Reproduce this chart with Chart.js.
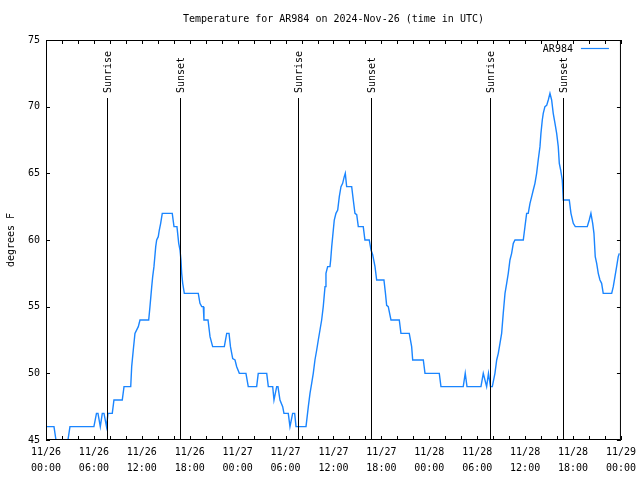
<!DOCTYPE html>
<html>
<head>
<meta charset="utf-8">
<title>Temperature for AR984</title>
<script src="https://cdn.jsdelivr.net/npm/chart.js@4.4.1/dist/chart.umd.min.js"></script>
<style>
  html, body { margin: 0; padding: 0; background: #fff; }
  canvas { display: block; }
</style>
</head>
<body>
<canvas id="tempChart" width="640" height="480"></canvas>
<script>
// hours since 2024-11-26 00:00 UTC
const hours = [
    0, 1.0, 1.25, 2.75, 3.0, 6.0, 6.32, 6.51, 6.80, 7.05, 7.26, 7.58, 7.76, 8.30, 8.51, 9.55, 9.77, 10.61,
    10.73, 10.93, 11.14, 11.56, 11.77, 12.86, 13.02, 13.24, 13.36, 13.52, 13.74, 13.86, 14.06, 14.19, 14.36, 14.56,
    15.81, 16.03, 16.40, 16.62, 16.78, 16.90, 16.99, 17.12, 17.32, 19.07, 19.28, 19.50, 19.70, 19.78, 20.29, 20.54,
    20.87, 22.33, 22.63, 22.92, 23.10, 23.38, 23.67, 23.88, 24.21, 25.04, 25.33, 26.38, 26.58, 27.64, 27.84, 28.39,
    28.55, 28.89, 29.05, 29.30, 29.64, 29.80, 30.34, 30.55, 30.89, 31.14, 31.31, 32.56,
    32.85, 33.06, 33.27, 33.47, 33.68, 33.90, 34.10, 34.31, 34.52, 34.72, 34.94, 35.06, 35.27, 35.56, 35.65, 35.78,
    35.90, 36.10, 36.31, 36.53, 36.73, 36.94, 37.15, 37.35, 37.48, 37.65, 38.28, 38.48, 38.69, 38.91, 39.11, 39.73,
    39.94, 40.48, 40.70, 40.91, 41.20, 41.41, 42.32, 42.51, 42.66, 42.86, 43.20, 44.24, 44.45, 45.49, 45.79, 45.92,
    47.25, 47.46, 49.25, 49.46, 52.25, 52.50, 52.72, 54.47, 54.76, 55.18, 55.41, 55.66, 55.89,
    56.22, 56.44, 56.64, 56.85, 57.06, 57.26, 57.48, 57.69, 57.89, 58.10, 58.31, 58.52, 58.73, 59.77, 59.98, 60.19,
    60.39, 60.61, 60.82, 61.02, 61.23, 61.44, 61.64, 61.86, 61.98, 62.15, 62.27, 62.48, 62.70, 62.90, 63.11, 63.32,
    63.52, 63.74, 63.95, 64.15, 64.28, 64.45, 64.65, 64.74, 64.78, 65.53, 65.74, 66.03, 66.28, 67.78, 68.03, 68.24,
    68.46, 68.62, 68.78, 68.96, 69.16, 69.37, 69.58, 69.78, 70.84, 71.04, 71.25, 71.46, 71.66, 71.79
];
const temps = [
    46, 46, 45, 45, 46, 46, 47, 47, 46, 47, 47, 46, 47, 47, 48, 48, 49, 49,
    50.5, 51.75, 53, 53.5, 54, 54, 55, 56.5, 57.25, 58, 59.5, 60, 60.25, 60.75, 61.25, 62,
    62, 61, 61, 59.75, 59.25, 58.5, 57.5, 56.75, 56, 56, 55.25, 55, 55, 54, 54, 52.75,
    52, 52, 53, 53, 52, 51.1, 51, 50.5, 50, 50, 49, 49, 50, 50, 49, 49,
    48, 49, 49, 48, 47.5, 47, 47, 46, 47, 47, 46, 46,
    47.5, 48.5, 49.25, 50, 51, 51.75, 52.5, 53.25, 54, 55, 56.5, 57.5, 58, 58, 58.5, 59.5,
    60.25, 61.5, 62, 62.25, 63.25, 64, 64.25, 64.75, 65, 64, 64, 63, 62, 61.9, 61, 61,
    60, 60, 59.25, 58.9, 58, 57, 57, 56, 55.1, 55, 54, 54, 53, 53, 52, 51,
    51, 50, 50, 49, 49, 50, 49, 49, 50, 49, 50, 49, 49,
    50, 51, 51.5, 52.25, 53, 54.5, 56, 56.75, 57.5, 58.5, 59, 59.75, 60, 60, 61, 62,
    62, 62.75, 63.25, 63.75, 64.25, 65, 66, 67, 68, 69, 69.5, 70, 70.1, 70.5, 71, 70.5,
    69.5, 68.75, 68, 67, 65.75, 65.25, 64.5, 63.5, 63, 63, 62, 61.25, 61, 61, 61.5, 62,
    61.25, 60.5, 58.75, 58.25, 57.5, 57, 56.75, 56, 56, 56.5, 57.25, 58, 58.75, 59
];

const xTickLabels = [
    ['11/26', '00:00'], ['11/26', '06:00'], ['11/26', '12:00'], ['11/26', '18:00'],
    ['11/27', '00:00'], ['11/27', '06:00'], ['11/27', '12:00'], ['11/27', '18:00'],
    ['11/28', '00:00'], ['11/28', '06:00'], ['11/28', '12:00'], ['11/28', '18:00'],
    ['11/29', '00:00']
];

const sunHours = [7.68, 16.82, 31.59, 40.73, 55.64, 64.78];
const sunLabels = ['Sunrise', 'Sunset', 'Sunrise', 'Sunset', 'Sunrise', 'Sunset'];

const seriesName = 'AR984';
const chartTitle = 'Temperature for AR984 on 2024-Nov-26 (time in UTC)';

const FONT = 'DejaVu Sans Mono';
const lineColor = '#1a85ff';

// box, inward ticks, sunrise/sunset markers, title and legend (gnuplot look)
const gnuplotDecor = {
    id: 'gnuplotDecor',
    afterDatasetsDraw(chart) {
        const ctx = chart.ctx;
        const area = chart.chartArea;
        const xs = chart.scales.x;
        const ys = chart.scales.y;
        ctx.save();
        ctx.strokeStyle = '#000';
        ctx.lineWidth = 1;

        // sunrise / sunset lines
        ctx.font = '10px ' + FONT;
        ctx.fillStyle = '#000';
        sunHours.forEach((h, i) => {
            const px = Math.round(xs.getPixelForValue(h)) + 0.5;
            ctx.beginPath();
            ctx.moveTo(px, area.bottom);
            ctx.lineTo(px, area.top + 58);
            ctx.stroke();
            ctx.save();
            ctx.translate(px + 1, area.top + 53);
            ctx.rotate(-Math.PI / 2);
            ctx.textAlign = 'left';
            ctx.textBaseline = 'middle';
            ctx.fillText(sunLabels[i], 0, 0);
            ctx.restore();
        });

        // frame
        ctx.strokeRect(area.left + 0.5, area.top + 0.5, area.right - area.left - 1, area.bottom - area.top - 1);

        // x ticks every 2 hours, inward, top and bottom
        ctx.beginPath();
        for (let v = xs.min; v <= xs.max; v += 2) {
            const px = Math.round(xs.getPixelForValue(v)) + 0.5;
            ctx.moveTo(px, area.bottom);
            ctx.lineTo(px, area.bottom - 4);
            ctx.moveTo(px, area.top);
            ctx.lineTo(px, area.top + 4);
        }
        // y ticks every 5 degrees, inward, left and right
        ys.ticks.forEach(t => {
            const py = Math.round(ys.getPixelForValue(t.value)) + 0.5;
            ctx.moveTo(area.left, py);
            ctx.lineTo(area.left + 4, py);
            ctx.moveTo(area.right, py);
            ctx.lineTo(area.right - 4, py);
        });
        ctx.stroke();

        // title
        ctx.font = '10px ' + FONT;
        ctx.textAlign = 'center';
        ctx.textBaseline = 'middle';
        ctx.fillText(chartTitle, (area.left + area.right) / 2, 19);

        // legend
        ctx.textAlign = 'right';
        ctx.fillText(seriesName, area.right - 48, area.top + 9);
        ctx.strokeStyle = lineColor;
        ctx.lineWidth = 1.2;
        ctx.beginPath();
        ctx.moveTo(area.right - 40, area.top + 8.5);
        ctx.lineTo(area.right - 12, area.top + 8.5);
        ctx.stroke();
        ctx.restore();
    }
};

const ctx = document.getElementById('tempChart').getContext('2d');
const tempChart = new Chart(ctx, {
    type: 'line',
    data: {
        datasets: [{
            label: seriesName,
            data: hours.map((h, i) => ({ x: h, y: temps[i] })),
            borderColor: lineColor,
            borderWidth: 1.4,
            pointRadius: 0,
            tension: 0,
            fill: false
        }]
    },
    options: {
        responsive: false,
        animation: false,
        devicePixelRatio: 1,
        layout: { padding: { top: 40, right: 19, left: 0, bottom: 0 } },
        plugins: {
            legend: { display: false },
            title: { display: false },
            tooltip: { enabled: false }
        },
        scales: {
            x: {
                type: 'linear',
                min: 0,
                max: 72,
                grid: { display: false, drawTicks: false },
                border: { display: false },
                afterFit: scale => { scale.height = 40; },
                ticks: {
                    stepSize: 6,
                    autoSkip: false,
                    maxRotation: 0,
                    padding: 4,
                    color: '#000',
                    font: { family: FONT, size: 10, lineHeight: 1.6 },
                    callback: value => xTickLabels[Math.round(value / 6)]
                }
            },
            y: {
                min: 45,
                max: 75,
                grid: { display: false, drawTicks: false },
                border: { display: false },
                afterFit: scale => { scale.width = 46; },
                title: {
                    display: true,
                    text: 'degrees F',
                    color: '#000',
                    font: { family: FONT, size: 10 },
                    padding: { top: 5, bottom: 0 }
                },
                ticks: {
                    stepSize: 5,
                    padding: 6,
                    color: '#000',
                    font: { family: FONT, size: 10 }
                }
            }
        }
    },
    plugins: [gnuplotDecor]
});
</script>
</body>
</html>
